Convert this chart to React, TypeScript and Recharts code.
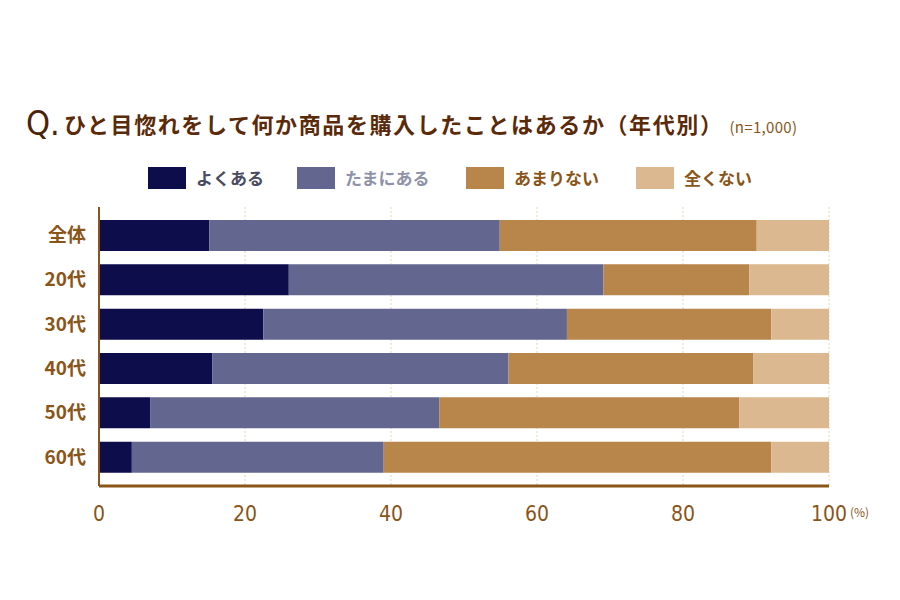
import { BarChart, Bar, XAxis, YAxis, CartesianGrid } from "recharts";

const ageGroups = ["全体", "20代", "30代", "40代", "50代", "60代"];
const often = [15.1, 26.0, 22.5, 15.5, 7.0, 4.5];
const sometimes = [39.8, 43.1, 41.6, 40.6, 39.6, 34.5];
const rarely = [35.2, 20.0, 28.0, 33.5, 41.1, 53.1];
const never = [9.9, 10.9, 7.9, 10.4, 12.3, 7.9];
const xTicks = [0, 20, 40, 60, 80, 100];

const seriesNames = ["よくある", "たまにある", "あまりない", "全くない"];

const BROWN = "#8a5518";
const FONT = "'Noto Sans CJK JP', 'Noto Sans', sans-serif";

const data = ageGroups.map((g, i) => ({
  group: g,
  often: often[i],
  sometimes: sometimes[i],
  rarely: rarely[i],
  never: never[i],
}));

const legendItems = [
  { name: seriesNames[0], fill: "#0e0d4c", text: "#4a4a60", left: 148 },
  { name: seriesNames[1], fill: "#63678f", text: "#8f92a8", left: 297 },
  { name: seriesNames[2], fill: "#b8864a", text: "#8a5518", left: 466 },
  { name: seriesNames[3], fill: "#dbb88f", text: "#8a5518", left: 636 },
];

export default function App() {
  return (
    <div
      style={{
        position: "fixed",
        left: 0,
        top: 0,
        width: 900,
        height: 600,
        background: "#fff",
        fontFamily: FONT,
      }}
    >
      <div
        style={{
          position: "absolute",
          left: 26,
          top: 104,
          fontSize: 34,
          fontWeight: 500,
          color: "#4a2308",
          lineHeight: "38px",
          fontFamily: "'DejaVu Sans Condensed', sans-serif",
        }}
      >
        Q.
      </div>
      <div
        style={{
          position: "absolute",
          left: 64,
          top: 108,
          fontSize: 22,
          fontWeight: 700,
          color: "#5a2a0a",
          lineHeight: "30px",
          whiteSpace: "nowrap",
          letterSpacing: 1.6,
        }}
      >
        ひと目惚れをして何か商品を購入したことはあるか（年代別）
        <span style={{ fontSize: 15, fontWeight: 400, color: "#8a5518", marginLeft: 6, letterSpacing: 0.3 }}>
          (n=1,000)
        </span>
      </div>

      {legendItems.map((it) => (
        <div
          key={it.name}
          style={{
            position: "absolute",
            left: it.left,
            top: 165,
            display: "flex",
            alignItems: "center",
            whiteSpace: "nowrap",
          }}
        >
          <div style={{ width: 38, height: 22, background: it.fill }} />
          <span
            style={{
              marginLeft: 10,
              fontSize: 17,
              fontWeight: 700,
              color: it.text,
            }}
          >
            {it.name}
          </span>
        </div>
      ))}

      <div
        style={{
          position: "absolute",
          left: 850,
          top: 503,
          fontSize: 12,
          color: BROWN,
        }}
      >
        (%)
      </div>

      <div style={{ position: "absolute", left: 0, top: 0 }}>
        <BarChart
          width={900}
          height={600}
          data={data}
          layout="vertical"
          margin={{ top: 207, right: 71, left: 29, bottom: 64 }}
        >
          <CartesianGrid
            horizontal={false}
            stroke="#e6d5bd"
            strokeDasharray="2 2"
          />
          <XAxis
            type="number"
            domain={[0, 100]}
            ticks={xTicks}
            axisLine={{ stroke: BROWN, strokeWidth: 3 }}
            tickLine={false}
            tick={{
              fill: BROWN,
              fontSize: 21,
              fontFamily: "'DejaVu Sans Condensed', sans-serif",
            }}
            tickMargin={14}
            height={50}
          />
          <YAxis
            type="category"
            dataKey="group"
            width={70}
            axisLine={{ stroke: BROWN, strokeWidth: 2 }}
            tickLine={false}
            tick={{ fill: BROWN, fontSize: 19, fontWeight: 700, fontFamily: FONT }}
            tickMargin={7}
            padding={{ top: 6, bottom: 7 }}
          />
          <Bar dataKey="often" stackId="a" fill="#0e0d4c" barSize={31} isAnimationActive={false} />
          <Bar dataKey="sometimes" stackId="a" fill="#63678f" barSize={31} isAnimationActive={false} />
          <Bar dataKey="rarely" stackId="a" fill="#b8864a" barSize={31} isAnimationActive={false} />
          <Bar dataKey="never" stackId="a" fill="#dbb88f" barSize={31} isAnimationActive={false} />
        </BarChart>
      </div>
    </div>
  );
}
